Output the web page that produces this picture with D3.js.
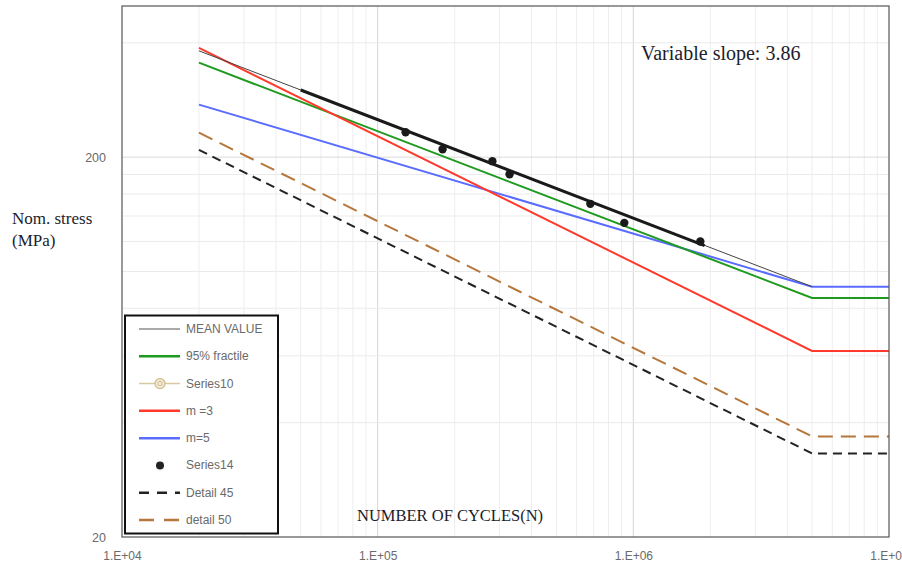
<!DOCTYPE html>
<html><head><meta charset="utf-8">
<script src="https://cdn.jsdelivr.net/npm/d3@7"></script>
<style>html,body{margin:0;padding:0;background:#fff;}svg{display:block;}</style>
</head><body>
<svg id="chart" width="902" height="565"></svg>
<script>
// ---- data ----
const cycles = [2e4, 5e6, 1e7];
const meanCycles = [2e4, 5e6];
const meanValue = [381, 91.2];
const fractile95 = [354.6, 85.2, 85.2];
const m3 = [388, 61.8, 61.8];
const m5 = [275, 91.2, 91.2];
const detail45 = [209, 33.2, 33.2];
const detail50 = [232, 36.8, 36.8];
const trendCycles = [5e4, 1.9e6];
const trendStress = [300.5, 117];
const testCycles = [1.286e5, 1.794e5, 2.81e5, 3.28e5, 6.79e5, 9.22e5, 1.828e6];
const testStress = [232.5, 209.8, 195.2, 180.3, 150.7, 134.3, 119.9];
const xTicks = [1e4, 1e5, 1e6, 1e7];
const xTickLabels = ["1.E+04", "1.E+05", "1.E+06", "1.E+07"];
const yTicks = [20, 200];
const yTickLabels = ["20", "200"];
const yMinor = [40, 60, 80, 100, 120, 140, 160, 180, 400];
const legendLabels = ["MEAN VALUE", "95% fractile", "Series10", "m =3", "m=5", "Series14", "Detail 45", "detail 50"];

// ---- layout ----
const L = 122, R = 889, T = 6, B = 537;
const svg = d3.select("#chart");
const x = d3.scaleLog().domain([1e4, 1e7]).range([L, R]);
const y = d3.scaleLog().domain([20, 500]).range([B, T]);

// grid
const xMinor = [];
for (let e = 4; e < 7; e++) for (let k = 2; k <= 9; k++) xMinor.push(k * Math.pow(10, e));
const g = svg.append("g");
g.selectAll(".vx").data(xMinor).join("line")
  .attr("x1", d => x(d)).attr("x2", d => x(d)).attr("y1", T).attr("y2", B)
  .attr("stroke", "#ededed").attr("stroke-width", 1);
g.selectAll(".vm").data([1e5, 1e6]).join("line")
  .attr("x1", d => x(d)).attr("x2", d => x(d)).attr("y1", T).attr("y2", B)
  .attr("stroke", "#d6d6d6").attr("stroke-width", 1);
g.selectAll(".hy").data(yMinor).join("line")
  .attr("x1", L).attr("x2", R).attr("y1", d => y(d)).attr("y2", d => y(d))
  .attr("stroke", "#ebebeb").attr("stroke-width", 1);
g.selectAll(".hm").data([200]).join("line")
  .attr("x1", L).attr("x2", R).attr("y1", d => y(d)).attr("y2", d => y(d))
  .attr("stroke", "#dadada").attr("stroke-width", 1);

// axes (labels only, Excel style)
const xAxis = d3.axisBottom(x).tickValues(xTicks).tickFormat((d, i) => xTickLabels[i]).tickSize(0).tickPadding(14);
const xa = svg.append("g").attr("transform", `translate(0,${B})`).call(xAxis);
xa.select(".domain").remove();
xa.selectAll("text").attr("font-family", "Liberation Sans, Arial, sans-serif").attr("font-size", 12).attr("fill", "#6a6a6a");
const yAxis = d3.axisLeft(y).tickValues(yTicks).tickFormat((d, i) => yTickLabels[i]).tickSize(0).tickPadding(16);
const ya = svg.append("g").attr("transform", `translate(${L},0)`).call(yAxis);
ya.select(".domain").remove();
ya.selectAll("text").attr("font-family", "Liberation Sans, Arial, sans-serif").attr("font-size", 12.5).attr("fill", "#6a6a6a");

// series
const line = d3.line().x(d => x(d[0])).y(d => y(d[1]));
const zip = (a, b) => a.map((v, i) => [v, b[i]]);
const plot = svg.append("g");
function draw(xs, ys, color, w, dash) {
  plot.append("path").attr("d", line(zip(xs, ys))).attr("fill", "none")
    .attr("stroke", color).attr("stroke-width", w).attr("stroke-dasharray", dash || null);
}
draw(cycles, detail45, "#222222", 2, "9,6");
draw(cycles, detail50, "#b5773c", 2, "15,8");
draw(cycles, m5, "#5a6cff", 2);
draw(cycles, fractile95, "#1e9a1e", 2);
draw(cycles, m3, "#ff3a2c", 2);
draw(meanCycles, meanValue, "#444444", 1);
draw(trendCycles, trendStress, "#1a1a1a", 3);
plot.selectAll(".dot").data(zip(testCycles, testStress)).join("circle")
  .attr("cx", d => x(d[0])).attr("cy", d => y(d[1])).attr("r", 4.2).attr("fill", "#1a1a1a");

// frame
svg.append("rect").attr("x", L).attr("y", T).attr("width", R - L).attr("height", B - T)
  .attr("fill", "none").attr("stroke", "#555").attr("stroke-width", 1.2);

// texts
const serif = "Liberation Serif, Times New Roman, serif";
svg.append("text").attr("x", 641).attr("y", 60).attr("font-family", serif).attr("font-size", 20)
  .attr("fill", "#1c1c2c").text("Variable slope: 3.86");
svg.append("text").attr("x", 12).attr("y", 224).attr("font-family", serif).attr("font-size", 17)
  .attr("fill", "#1c1c2c").text("Nom. stress");
svg.append("text").attr("x", 12).attr("y", 246).attr("font-family", serif).attr("font-size", 17)
  .attr("fill", "#1c1c2c").text("(MPa)");
svg.append("text").attr("x", 357).attr("y", 521).attr("font-family", serif).attr("font-size", 16.5)
  .attr("fill", "#1c1c2c").text("NUMBER OF CYCLES(N)");

// legend
const lg = svg.append("g");
lg.append("rect").attr("x", 125).attr("y", 315.5).attr("width", 153).attr("height", 218)
  .attr("fill", "#fff").attr("stroke", "#111").attr("stroke-width", 2);
const ly = d3.scalePoint().domain(legendLabels).range([329, 520]);
const lstyle = [
  {c: "#555", w: 1.2}, {c: "#1e9a1e", w: 2.5}, {c: "#d8c9a0", w: 1.5, marker: "ring"},
  {c: "#ff3a2c", w: 2.5}, {c: "#5a6cff", w: 2.5}, {c: null, marker: "dot"},
  {c: "#222", w: 2.5, dash: "10,8"}, {c: "#b5773c", w: 2.5, dash: "15,10"}
];
legendLabels.forEach((lab, i) => {
  const s = lstyle[i], yy = ly(lab);
  if (s.c) lg.append("line").attr("x1", 139).attr("x2", 180).attr("y1", yy).attr("y2", yy)
    .attr("stroke", s.c).attr("stroke-width", s.w).attr("stroke-dasharray", s.dash || null);
  if (s.marker === "ring") {
    lg.append("circle").attr("cx", 160).attr("cy", yy).attr("r", 5).attr("fill", "#f3ecd8").attr("stroke", "#cdb98a").attr("stroke-width", 1.2);
    lg.append("circle").attr("cx", 160).attr("cy", yy).attr("r", 2.2).attr("fill", "none").attr("stroke", "#cdb98a").attr("stroke-width", 1);
  }
  if (s.marker === "dot") lg.append("circle").attr("cx", 160).attr("cy", yy).attr("r", 4).attr("fill", "#222");
  lg.append("text").attr("x", 186).attr("y", yy + 4).attr("font-family", "Liberation Sans, Arial, sans-serif")
    .attr("font-size", 12).attr("fill", "#6a6a6a").text(lab);
});
</script>
</body></html>
